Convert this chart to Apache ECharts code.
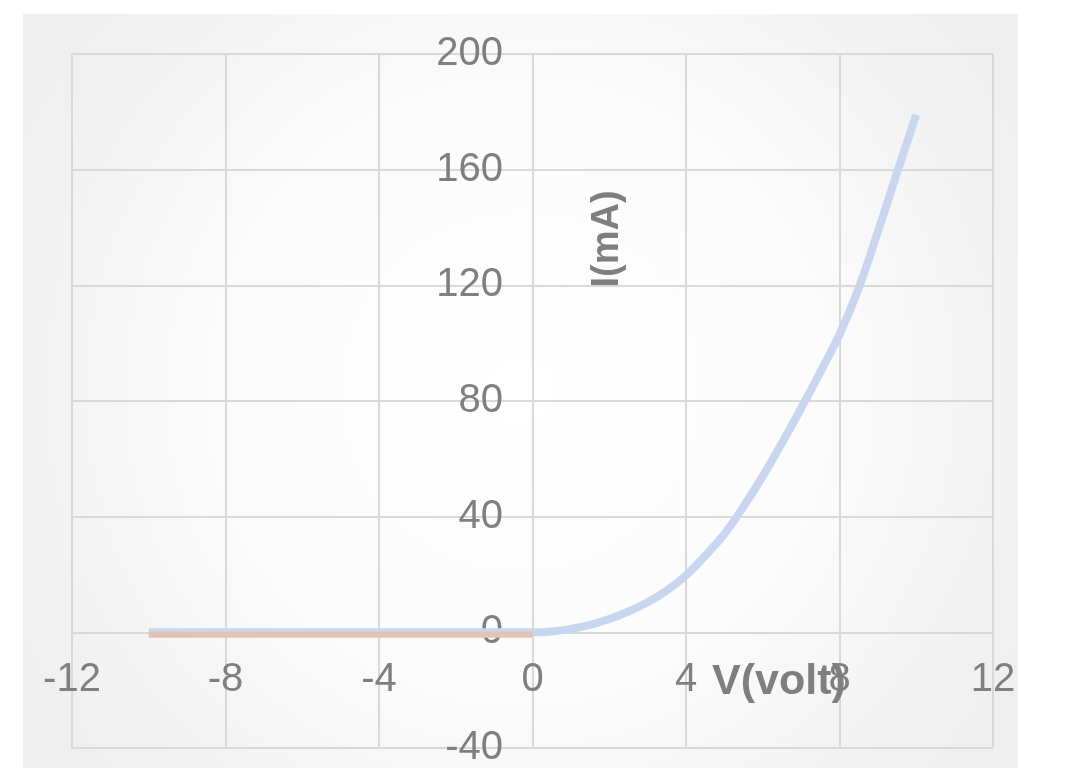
<!DOCTYPE html>
<html>
<head>
<meta charset="utf-8">
<style>html,body{margin:0;padding:0;background:#fff;}#main{width:1067px;height:781px;}</style>
<script src="https://cdn.jsdelivr.net/npm/echarts@6/dist/echarts.min.js"></script>
</head>
<body>
<div id="main"></div>
<script>
// Data
var forwardV = [-10, -8, -6, -4, -2, 0, 0.5, 1, 1.5, 2, 2.5, 3, 3.5, 4, 4.5, 5, 5.5, 6, 6.5, 7, 7.5, 8, 8.5, 9, 9.5, 10];
var forwardI = [0, 0, 0, 0, 0, 0, 0.3, 1.2, 2.6, 4.6, 7.2, 10.4, 14.5, 19.7, 26.5, 34, 43.5, 54, 65.5, 77.5, 90, 103, 119, 138.5, 159, 179];
var reverseV = [-10, -8, -6, -4, -2, 0];
var reverseI = [-0.8, -0.8, -0.8, -0.8, -0.8, -0.8];
var xTicks = [-12, -8, -4, 0, 4, 8, 12];
var yTicks = [-40, 0, 40, 80, 120, 160, 200];
var xName = 'V(volt)';
var yName = 'I(mA)';

function pairs(xs, ys) { return xs.map(function (x, i) { return [x, ys[i]]; }); }

var chart = echarts.init(document.getElementById('main'));
var font = '"Liberation Sans", Arial, sans-serif';
var labelColor = '#7f7f7f';
var gridColor = '#d9d9d9';

chart.setOption({
  animation: false,
  grid: { left: 72, right: 74, top: 54, bottom: 33, containLabel: false, outerBoundsMode: 'none' },
  graphic: [
    {
      type: 'rect', z: -10, silent: true,
      shape: { x: 23, y: 14, width: 995, height: 754 },
      style: {
        fill: new echarts.graphic.RadialGradient(0.5, 0.5, 0.75, [
          { offset: 0, color: '#ffffff' },
          { offset: 0.55, color: '#fbfbfb' },
          { offset: 1, color: '#efefef' }
        ])
      }
    },
    {
      type: 'text', z: 10, silent: true,
      x: 608, y: 239, rotation: Math.PI / 2,
      style: { text: yName, font: 'bold 38px ' + font, fill: labelColor, textAlign: 'center', textVerticalAlign: 'middle' }
    },
    {
      type: 'text', z: 10, silent: true,
      x: 779, y: 682,
      style: { text: xName, font: 'bold 43px ' + font, fill: labelColor, textAlign: 'center', textVerticalAlign: 'middle' }
    }
  ],
  xAxis: {
    type: 'value', min: xTicks[0], max: xTicks[xTicks.length - 1], interval: 4,
    axisLine: { show: false, onZero: false },
    axisTick: { show: false },
    axisLabel: { color: labelColor, fontSize: 40, fontFamily: font, margin: -88, showMinLabel: true, showMaxLabel: true },
    splitLine: { show: true, lineStyle: { color: gridColor, width: 2 } }
  },
  yAxis: {
    type: 'value', min: yTicks[0], max: yTicks[yTicks.length - 1], interval: 40,
    axisLine: { show: false, onZero: false },
    axisTick: { show: false },
    axisLabel: { color: labelColor, fontSize: 40, fontFamily: font, margin: -431, showMinLabel: true, showMaxLabel: true },
    splitLine: { show: true, lineStyle: { color: gridColor, width: 2 } }
  },
  series: [
    {
      type: 'line', data: pairs(forwardV, forwardI), showSymbol: false, smooth: 0.4,
      lineStyle: { color: '#c9d6ef', width: 8 }, z: 3
    },
    {
      type: 'line', data: pairs(reverseV, reverseI), showSymbol: false,
      lineStyle: { color: '#e3c4b1', width: 6 }, z: 4
    }
  ]
});
</script>
</body>
</html>
